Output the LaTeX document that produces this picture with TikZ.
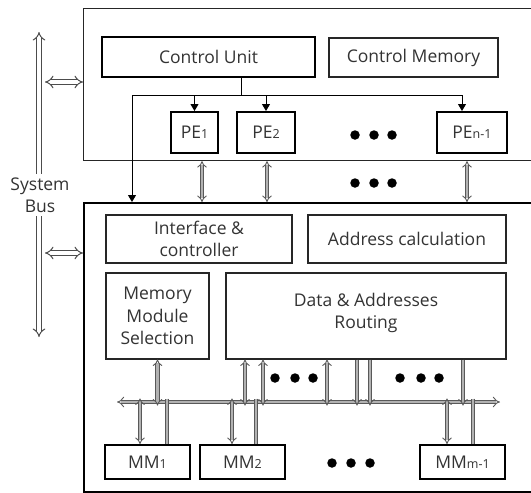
\documentclass[tikz,border=0pt]{standalone}
\usepackage{fontspec}
\setmainfont{Open Sans}
\usetikzlibrary{arrows.meta}
\begin{document}
\begin{tikzpicture}[x=1pt,y=-1pt,
  every node/.style={font=\fontsize{17.5}{22.5}\selectfont, text=black!80, align=center, inner sep=0pt},
  thickbox/.style={draw=black, line width=2pt, rectangle},
  thinbox/.style={draw=black!85, line width=1.1pt, rectangle},
  dbl/.style={draw=black!65, double=black!30, double distance=2.4pt, line width=0.9pt},
  bigdbl/.style={draw=black!70, double=white, double distance=3.4pt, line width=1pt},
  ih/.tip={Implies},
  ctrl/.style={line width=1pt, -{Triangle[width=8pt,length=7pt]}},
  dot/.style={circle, fill=black, minimum size=9.5pt}
]
\clip (0,0) rectangle (531,493);
\fill[white] (0,0) rectangle (531,493);
\newcommand{\sbs}[1]{{\fontsize{12.5}{12.5}\selectfont #1}}
% frames
\node[thinbox, anchor=north west, minimum width=460pt, minimum height=152pt] (upper) at (83,8) {};
\node[thickbox, anchor=north west, minimum width=460pt, minimum height=289pt] (lower) at (83,202) {};
% upper contents
\node[thickbox, minimum width=213pt, minimum height=40pt] (cu) at (208.5,57) {Control Unit};
\node[thinbox, minimum width=169pt, minimum height=39pt] (cm) at (413.5,57.5) {Control Memory};
\node[thickbox, minimum width=47pt, minimum height=41pt] (pe1) at (194.5,132.5) {PE\sbs{1}};
\node[thickbox, minimum width=58pt, minimum height=41pt] (pe2) at (266,132.5) {PE\sbs{2}};
\node[thickbox, minimum width=70pt, minimum height=41pt] (pen) at (472,132.5) {PE\sbs{n-1}};
\node[dot] (d1) at (355,135) {};
\node[dot] (d2) at (374,135) {};
\node[dot] (d3) at (392,135) {};
\node[dot] (d4) at (355,183) {};
\node[dot] (d5) at (374,183) {};
\node[dot] (d6) at (392,183) {};
% lower contents
\node[thinbox, minimum width=186pt, minimum height=48pt] (ic) at (199,239) {Interface \&\\controller};
\node[thinbox, minimum width=198pt, minimum height=48pt] (ac) at (407,239) {Address calculation};
\node[thinbox, minimum width=103pt, minimum height=86pt] (mms) at (157.5,316) {Memory\\Module\\Selection};
\node[thinbox, minimum width=280pt, minimum height=86pt] (dar) at (366,316) {};
\node (dartext) at (366,313) {Data \& Addresses\\Routing};
\node[thickbox, minimum width=85pt, minimum height=34pt] (mm1) at (147.5,462) {MM\sbs{1}};
\node[thickbox, minimum width=85pt, minimum height=34pt] (mm2) at (242.5,462) {MM\sbs{2}};
\node[thickbox, minimum width=85pt, minimum height=34pt] (mmm) at (462.5,462) {MM\sbs{m-1}};
\node[dot] (e1) at (275,378) {};
\node[dot] (e2) at (295,378) {};
\node[dot] (e3) at (313,378) {};
\node[dot] (e4) at (400,378) {};
\node[dot] (e5) at (421,378) {};
\node[dot] (e6) at (439,378) {};
\node[dot] (f1) at (332,463) {};
\node[dot] (f2) at (351,463) {};
\node[dot] (f3) at (370,463) {};
% system bus
\coordinate (sbT) at (39,32);
\coordinate (sbB) at (39,337);
\draw[bigdbl, {Implies}-{Implies}] (sbT) -- (sbB);
\node[fill=white, inner sep=3pt] (sb) at (40,195) {System\\Bus};
\coordinate (h1) at (45,82);
\coordinate (h2) at (45,253);
\draw[bigdbl, {Implies}-{Implies}] (h1) -- (upper.west |- h1);
\draw[bigdbl, {Implies}-{Implies}] (h2) -- (lower.west |- h2);
% control lines
\coordinate (j) at (241,95);
\coordinate (k) at (132,95);
\coordinate (m) at (462,95);
\draw[line width=1pt] (cu.south -| j) -- (j);
\draw[line width=1pt] (k) -- (m);
\draw[ctrl] (k) -- (lower.north -| k);
\draw[ctrl] (pe1.north |- j) -- (pe1.north);
\draw[ctrl] (pe2.north |- j) -- (pe2.north);
\draw[ctrl] (m) -- (pen.north -| m);
% upper-lower links
\foreach \x in {202,267,467}{
  \coordinate (u) at (\x,0);
  \draw[dbl, {Implies}-{Implies}] (upper.south -| u) -- (lower.north -| u);
}
% internal bus
\coordinate (busL) at (117,402);
\coordinate (busR) at (500,402);
\draw[dbl, double distance=2.8pt, {Implies}-{Implies}] (busL) -- (busR);
\draw[dbl, {Implies}-{Implies}] (mms.south) -- ([yshift=-3.5pt]busL -| mms.south);
\foreach \x in {245,263,327}{
  \coordinate (u) at (\x,0);
  \draw[dbl, {Implies}-{Implies}] (dar.south -| u) -- ([yshift=-3.5pt]busL -| u);
}
\foreach \x in {357,370,463}{
  \coordinate (u) at (\x,0);
  \draw[dbl, -{Implies}] (dar.south -| u) -- ([yshift=-3.5pt]busL -| u);
}
\foreach \x/\n in {140/mm1,232/mm2,447/mmm}{
  \coordinate (u) at (\x,0);
  \draw[dbl, {Implies}-{Implies}] ([yshift=3.5pt]busL -| u) -- (\n.north -| u);
}
\foreach \x/\n in {167/mm1,256/mm2,473/mmm}{
  \coordinate (u) at (\x,0);
  \draw[dbl] ([yshift=3.5pt]busL -| u) -- (\n.north -| u);
}
\end{tikzpicture}
\end{document}
